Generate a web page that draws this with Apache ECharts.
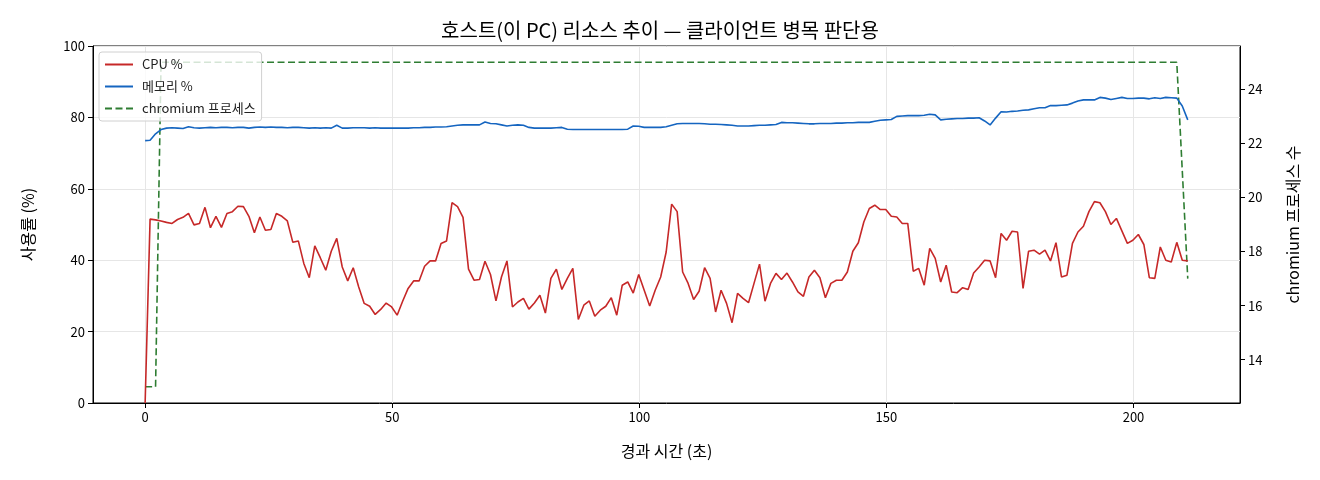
<!DOCTYPE html>
<html>
<head>
<meta charset="utf-8">
<script src="https://cdn.jsdelivr.net/npm/echarts@6/dist/echarts.min.js"></script>
<style>
html,body{margin:0;padding:0;background:#fff;}
#chart{width:1320px;height:480px;}
</style>
</head>
<body>
<div id="chart"></div>
<script>
// sampling: first sample at t=0, second at ~1.0 s, then ~1.111 s apart
const FIRST_T = 1.0;
const SAMPLE_STEP = 1.111;

const cpu = [
0, 51.5, 51.3, 51.0, 50.6, 50.3, 51.4, 52.0, 53.1, 49.9,
50.3, 54.8, 49.1, 52.3, 49.2, 53.1, 53.6, 55.1, 55.0, 52.3,
47.7, 52.1, 48.4, 48.6, 53.1, 52.3, 51.0, 45.0, 45.4, 39.1,
35.1, 44.0, 40.7, 37.2, 42.5, 46.1, 38.1, 34.2, 37.9, 32.5,
27.9, 27.1, 24.8, 26.2, 28.0, 26.9, 24.6, 28.5, 32.1, 34.2,
34.2, 38.3, 39.8, 39.8, 44.7, 45.4, 56.1, 55.0, 52.0, 37.5,
34.4, 34.6, 39.7, 36.0, 28.6, 35.3, 39.8, 26.9, 28.3, 29.3,
26.3, 28.0, 30.2, 25.2, 34.9, 37.5, 31.8, 34.9, 37.7, 23.4,
27.4, 28.6, 24.3, 26.0, 27.1, 29.5, 24.6, 33.0, 33.9, 30.8,
36.0, 31.6, 27.2, 31.6, 35.3, 42.3, 55.7, 53.6, 36.7, 33.5,
29.0, 31.3, 37.9, 34.9, 25.5, 31.6, 27.9, 22.5, 30.7, 29.3,
28.1, 33.5, 38.9, 28.5, 33.5, 36.3, 34.6, 36.4, 33.9, 31.1,
29.9, 35.3, 37.2, 35.1, 29.5, 33.5, 34.4, 34.4, 36.7, 42.5,
44.9, 50.7, 54.5, 55.4, 54.2, 54.2, 52.3, 52.1, 50.3, 50.3,
36.9, 37.7, 33.0, 43.3, 40.5, 33.9, 38.6, 31.1, 30.9, 32.3,
31.8, 36.4, 38.1, 40.0, 39.8, 35.1, 47.5, 45.6, 48.1, 47.9,
32.1, 42.5, 42.8, 41.7, 42.8, 39.8, 44.9, 35.3, 35.8, 44.7,
47.9, 49.5, 53.6, 56.4, 56.1, 53.6, 50.0, 51.7, 48.2, 44.7,
45.6, 47.2, 44.4, 35.1, 34.9, 43.7, 40.0, 39.5, 45.0, 40.0,
39.8
];

const memory = [
73.5, 73.6, 75.4, 76.6, 77.0, 77.1, 77.0, 76.9, 77.4, 77.1,
77.0, 77.1, 77.2, 77.1, 77.2, 77.2, 77.1, 77.2, 77.2, 77.0,
77.2, 77.3, 77.2, 77.3, 77.2, 77.2, 77.1, 77.2, 77.2, 77.1,
77.0, 77.1, 77.0, 77.1, 77.0, 77.8, 77.0, 77.0, 77.1, 77.1,
77.1, 77.0, 77.1, 77.0, 77.0, 77.0, 77.0, 77.0, 77.0, 77.1,
77.1, 77.2, 77.2, 77.3, 77.3, 77.4, 77.6, 77.8, 77.9, 77.9,
77.9, 77.9, 78.7, 78.3, 78.2, 77.9, 77.6, 77.8, 77.9, 77.8,
77.2, 77.0, 77.0, 77.0, 77.0, 77.1, 77.2, 76.7, 76.6, 76.6,
76.6, 76.6, 76.6, 76.6, 76.6, 76.6, 76.6, 76.6, 76.7, 77.6,
77.5, 77.2, 77.2, 77.2, 77.2, 77.4, 77.8, 78.2, 78.3, 78.3,
78.3, 78.3, 78.2, 78.1, 78.1, 78.0, 77.9, 77.8, 77.6, 77.6,
77.6, 77.7, 77.8, 77.8, 77.9, 78.0, 78.6, 78.5, 78.5, 78.4,
78.3, 78.2, 78.2, 78.3, 78.3, 78.3, 78.4, 78.4, 78.5, 78.5,
78.6, 78.6, 78.6, 78.9, 79.2, 79.3, 79.4, 80.3, 80.4, 80.5,
80.5, 80.5, 80.6, 80.9, 80.7, 79.3, 79.5, 79.6, 79.7, 79.7,
79.8, 79.8, 79.9, 79.0, 77.9, 79.8, 81.6, 81.5, 81.7, 81.8,
82.0, 82.1, 82.4, 82.7, 82.7, 83.3, 83.3, 83.4, 83.5, 84.0,
84.6, 84.9, 84.9, 84.9, 85.6, 85.4, 85.0, 85.3, 85.6, 85.3,
85.3, 85.4, 85.4, 85.2, 85.5, 85.3, 85.6, 85.5, 85.4, 83.2,
79.3
];

// chromium process count per sample: 13 for the first three samples, 25 until the end drop
const chromiumStart = [13, 13, 13];
const chromiumSteady = 25;
const chromiumEnd = [25, 21, 17]; // last three samples
const xTicks = [0, 50, 100, 150, 200];
const rightTicks = [14, 16, 18, 20, 22, 24];

const N = cpu.length;
const times = [];
for (let i = 0; i < N; i++) times.push(i === 0 ? 0 : FIRST_T + (i - 1) * SAMPLE_STEP);
const chromium = [];
for (let i = 0; i < N; i++) {
  if (i < chromiumStart.length) chromium.push(chromiumStart[i]);
  else if (i >= N - chromiumEnd.length) chromium.push(chromiumEnd[i - (N - chromiumEnd.length)]);
  else chromium.push(chromiumSteady);
}
const pair = arr => arr.map((v, i) => [times[i], v]);

const FONT = '"Noto Sans CJK KR", "Noto Sans", sans-serif';
const chart = echarts.init(document.getElementById('chart'), null, {renderer: 'canvas'});
chart.setOption({
  animation: false,
  backgroundColor: '#fff',
  textStyle: {fontFamily: FONT},
  title: {
    text: '호스트(이 PC) 리소스 추이 — 클라이언트 병목 판단용',
    left: 'center', top: 15,
    textStyle: {fontFamily: FONT, fontSize: 20, fontWeight: 'normal', color: '#000'}
  },
  legend: {
    orient: 'vertical', left: 99, top: 52,
    itemWidth: 28, itemHeight: 14, itemGap: 9,
    padding: [6, 6, 6, 5],
    borderColor: '#d0d0d0', borderWidth: 1, borderRadius: 3,
    backgroundColor: 'rgba(255,255,255,0.8)',
    itemStyle: {opacity: 0, color: 'rgba(0,0,0,0)', borderWidth: 0},
    textStyle: {fontFamily: FONT, fontSize: 13, color: '#222', padding: [0, 0, 0, 4]},
    data: ['CPU %', '메모리 %', 'chromium 프로세스']
  },
  grid: {
    left: 93, right: 80, top: 46, bottom: 77,
    show: true, borderColor: '#000', borderWidth: 1, backgroundColor: 'transparent'
  },
  xAxis: {
    type: 'value', min: -10.55, max: 221.55,
    name: '경과 시간 (초)', nameLocation: 'middle', nameGap: 40,
    nameTextStyle: {fontFamily: FONT, fontSize: 16, color: '#000'},
    axisLine: {show: true, onZero: false, lineStyle: {color: '#000', width: 1}},
    axisTick: {show: true, length: 5, customValues: xTicks, lineStyle: {color: '#000'}},
    axisLabel: {customValues: xTicks, fontSize: 13, color: '#000', margin: 8, fontFamily: FONT},
    splitLine: {show: true, lineStyle: {color: '#e6e6e6', width: 1}}
  },
  yAxis: [{
    type: 'value', min: 0, max: 100, interval: 20,
    name: '사용률 (%)', nameLocation: 'middle', nameGap: 57, nameRotate: 90,
    nameTextStyle: {fontFamily: FONT, fontSize: 16, color: '#000'},
    axisLine: {show: true, onZero: false, lineStyle: {color: '#000', width: 1}},
    axisTick: {show: true, length: 5, lineStyle: {color: '#000'}},
    axisLabel: {fontSize: 13, color: '#000', margin: 8, fontFamily: FONT},
    splitLine: {show: true, lineStyle: {color: '#e6e6e6', width: 1}}
  }, {
    type: 'value', min: 12.4, max: 25.6, position: 'right',
    name: 'chromium 프로세스 수', nameLocation: 'middle', nameGap: 45, nameRotate: 90,
    nameTextStyle: {fontFamily: FONT, fontSize: 16, color: '#000'},
    axisLine: {show: true, onZero: false, lineStyle: {color: '#000', width: 1}},
    axisTick: {show: true, length: 5, customValues: rightTicks, lineStyle: {color: '#000'}},
    axisLabel: {customValues: rightTicks, fontSize: 13, color: '#000', margin: 8, fontFamily: FONT},
    splitLine: {show: false}
  }],
  series: [{
    name: 'CPU %', type: 'line', yAxisIndex: 0, data: pair(cpu),
    symbol: 'none', lineStyle: {color: '#c62828', width: 1.6}, itemStyle: {color: '#c62828'}, z: 3
  }, {
    name: '메모리 %', type: 'line', yAxisIndex: 0, data: pair(memory),
    symbol: 'none', lineStyle: {color: '#1565c0', width: 1.6}, itemStyle: {color: '#1565c0'}, z: 3
  }, {
    name: 'chromium 프로세스', type: 'line', yAxisIndex: 1, data: pair(chromium),
    symbol: 'none', lineStyle: {color: '#2e7d32', width: 1.6, type: [7, 3.5]}, itemStyle: {color: '#2e7d32'}, z: 2
  }]
});
</script>
</body>
</html>
